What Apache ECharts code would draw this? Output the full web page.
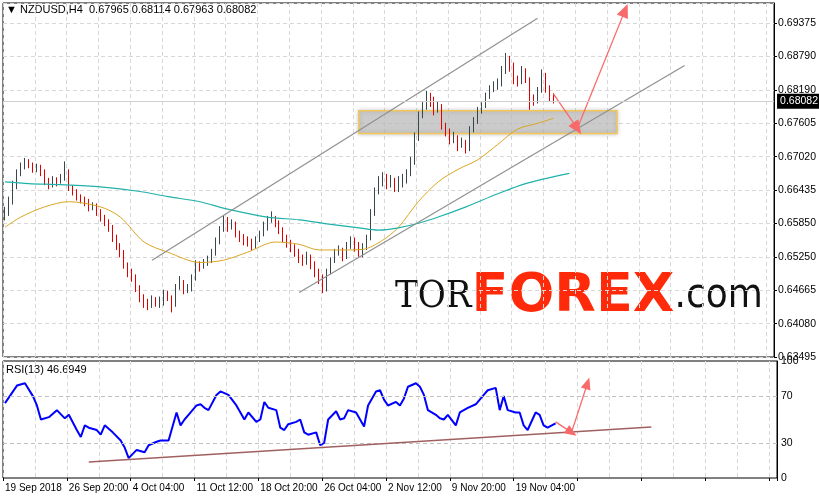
<!DOCTYPE html>
<html>
<head>
<meta charset="utf-8">
<script src="https://cdn.jsdelivr.net/npm/echarts@6/dist/echarts.min.js"></script>
<style>
  html, body { margin: 0; padding: 0; background: #fff; }
  #chart { width: 819px; height: 500px; }
</style>
</head>
<body>
<div id="chart"></div>
<script>
// H4 bars, each slot = 2 real bars
var closes = [
  0.6602,0.6623,0.6649,0.6673,0.6685,0.6694,0.6689,0.6680,0.6685,0.6676,
  0.6658,0.6653,0.6662,0.6658,0.6667,0.6676,0.6649,0.6641,0.6632,0.6626,
  0.6623,0.6614,0.6617,0.6605,0.6596,0.6587,0.6578,0.6561,0.6546,0.6534,
  0.6513,0.6499,0.6490,0.6472,0.6454,0.6445,0.6440,0.6449,0.6445,0.6445,
  0.6460,0.6454,0.6442,0.6472,0.6481,0.6467,0.6472,0.6490,0.6513,0.6507,
  0.6513,0.6520,0.6534,0.6552,0.6573,0.6587,0.6578,0.6584,0.6569,0.6561,
  0.6555,0.6552,0.6543,0.6555,0.6566,0.6578,0.6591,0.6596,0.6584,0.6573,
  0.6561,0.6552,0.6543,0.6534,0.6525,0.6520,0.6525,0.6513,0.6499,0.6490,
  0.6467,0.6499,0.6520,0.6534,0.6538,0.6525,0.6543,0.6552,0.6543,0.6534,
  0.6543,0.6561,0.6605,0.6641,0.6658,0.6667,0.6658,0.6662,0.6649,0.6658,
  0.6662,0.6673,0.6694,0.6738,0.6774,0.6792,0.6809,0.6800,0.6783,0.6792,
  0.6756,0.6747,0.6733,0.6738,0.6726,0.6729,0.6720,0.6751,0.6765,0.6783,
  0.6792,0.6809,0.6822,0.6827,0.6832,0.6854,0.6871,0.6863,0.6839,0.6836,
  0.6850,0.6839,0.6809,0.6800,0.6818,0.6836,0.6822,0.6809,0.6808
];
var highs = [
  0.6614,0.6632,0.6660,0.6680,0.6692,0.6700,0.6698,0.6692,0.6690,0.6688,
  0.6680,0.6665,0.6668,0.6666,0.6672,0.6694,0.6680,0.6652,0.6645,0.6636,
  0.6632,0.6628,0.6622,0.6620,0.6610,0.6600,0.6592,0.6582,0.6565,0.6550,
  0.6538,0.6516,0.6505,0.6495,0.6476,0.6460,0.6452,0.6458,0.6455,0.6456,
  0.6468,0.6466,0.6458,0.6478,0.6492,0.6485,0.6478,0.6495,0.6520,0.6518,
  0.6522,0.6528,0.6540,0.6560,0.6580,0.6598,0.6596,0.6592,0.6588,0.6572,
  0.6566,0.6562,0.6558,0.6562,0.6572,0.6588,0.6598,0.6606,0.6598,0.6590,
  0.6578,0.6565,0.6556,0.6548,0.6540,0.6530,0.6535,0.6530,0.6518,0.6505,
  0.6495,0.6505,0.6525,0.6540,0.6546,0.6542,0.6552,0.6562,0.6560,0.6552,
  0.6550,0.6565,0.6610,0.6648,0.6668,0.6675,0.6672,0.6670,0.6665,0.6668,
  0.6672,0.6680,0.6702,0.6745,0.6782,0.6800,0.6818,0.6815,0.6808,0.6800,
  0.6795,0.6762,0.6752,0.6746,0.6740,0.6736,0.6732,0.6756,0.6772,0.6790,
  0.6798,0.6815,0.6828,0.6835,0.6840,0.6862,0.6885,0.6880,0.6868,0.6845,
  0.6862,0.6858,0.6842,0.6812,0.6825,0.6856,0.6850,0.6828,0.6814
];
var lows = [
  0.6590,0.6598,0.6618,0.6645,0.6668,0.6680,0.6682,0.6674,0.6675,0.6668,
  0.6652,0.6645,0.6648,0.6650,0.6655,0.6660,0.6642,0.6634,0.6625,0.6620,
  0.6615,0.6606,0.6608,0.6598,0.6588,0.6580,0.6570,0.6552,0.6538,0.6525,
  0.6505,0.6490,0.6482,0.6464,0.6446,0.6436,0.6432,0.6436,0.6438,0.6436,
  0.6440,0.6448,0.6428,0.6438,0.6468,0.6460,0.6462,0.6465,0.6484,0.6500,
  0.6505,0.6510,0.6515,0.6528,0.6548,0.6570,0.6570,0.6574,0.6560,0.6552,
  0.6546,0.6544,0.6536,0.6540,0.6552,0.6562,0.6572,0.6586,0.6578,0.6566,
  0.6552,0.6542,0.6534,0.6526,0.6515,0.6510,0.6512,0.6504,0.6490,0.6478,
  0.6462,0.6465,0.6495,0.6515,0.6528,0.6518,0.6522,0.6540,0.6535,0.6526,
  0.6525,0.6538,0.6555,0.6598,0.6636,0.6650,0.6645,0.6648,0.6640,0.6640,
  0.6648,0.6655,0.6668,0.6688,0.6730,0.6770,0.6785,0.6790,0.6775,0.6780,
  0.6750,0.6738,0.6724,0.6726,0.6712,0.6718,0.6708,0.6712,0.6745,0.6760,
  0.6778,0.6788,0.6804,0.6816,0.6820,0.6826,0.6848,0.6852,0.6830,0.6826,
  0.6830,0.6832,0.6785,0.6792,0.6796,0.6815,0.6815,0.6800,0.6796
];
var firstOpen = 0.6595;

var maFast = [[0,0.6578],[4,0.6596],[10,0.6614],[16,0.6623],[24,0.6614],[29,0.6596],[35,0.6552],
  [41,0.6534],[49,0.6516],[55,0.6520],[61,0.6534],[68,0.6552],[74,0.6548],[79,0.6538],[85,0.6538],
  [90,0.6539],[95,0.6555],[99,0.6578],[104,0.6623],[109,0.6658],[114,0.6680],[119,0.6697],
  [124,0.6724],[129,0.6751],[134,0.6761],[138,0.6770]];
var maSlow = [[0,0.6658],[6,0.6655],[14,0.6653],[24,0.6649],[34,0.6641],[41,0.6632],[49,0.6623],
  [56,0.6610],[66,0.6596],[74,0.6591],[81,0.6584],[89,0.6577],[94,0.6573],[99,0.6577],[104,0.6585],
  [109,0.6596],[116,0.6614],[124,0.6637],[131,0.6655],[142,0.6673]];

var rsi = [[0,64],[3,79],[5,81],[7,70],[8,62],[9,50],[11,52],[13,58],[15,51],[16,54],[18,41],[19,35],
  [20,45],[21,43],[23,41],[24,37],[25,45],[27,39],[29,32],[30,26],[31,17],[33,24],[35,22],[36,28],
  [38,31],[39,32],[41,32],[43,56],[44,45],[45,50],[46,54],[48,62],[49,63],[50,60],[51,58],[53,71],
  [54,74],[56,71],[58,62],[60,50],[61,56],[63,48],[64,50],[65,65],[66,60],[68,58],[69,43],[70,41],
  [71,46],[73,48],[74,50],[75,39],[76,37],[78,39],[79,28],[80,30],[81,50],[83,57],[84,50],[85,51],
  [86,58],[88,56],[89,50],[90,44],[91,62],[93,74],[94,75],[95,67],[96,62],[98,65],[99,62],[100,68],
  [101,78],[103,81],[104,78],[105,71],[106,58],[108,54],[109,51],[110,50],[111,54],[113,45],[114,56],
  [115,58],[116,60],[118,63],[119,67],[120,71],[121,75],[123,77],[124,58],[125,70],[126,58],[128,56],
  [129,56],[130,45],[131,41],[133,56],[134,54],[135,45],[136,43],[138,46.69]];

var timeLabels = ['19 Sep 2018','26 Sep 20:00','4 Oct 04:00','11 Oct 12:00','18 Oct 20:00',
  '26 Oct 04:00','2 Nov 12:00','9 Nov 20:00','19 Nov 04:00'];
var priceLabels = ['0.63495','0.64080','0.64665','0.65250','0.65850','0.66435','0.67020',
  '0.67605','0.68190','0.68790','0.69375'];
var rsiLabels = [0, 30, 70, 100];

var SLOTS = 194;
var categories = [];
for (var i = 0; i < SLOTS; i++) {
  categories.push(i % 16 === 0 && timeLabels[i / 16] ? timeLabels[i / 16] : '');
}
var ohlc = closes.map(function (c, i) {
  var o = i === 0 ? firstOpen : closes[i - 1];
  return [o, c, lows[i], highs[i]];
});

var FONT = 'Liberation Sans';
var dash = { color: '#d8d8d8', type: [4, 3], width: 1 };
var chart = echarts.init(document.getElementById('chart'));
chart.setOption({
  animation: false,
  textStyle: { fontFamily: FONT, fontSize: 10 },
  grid: [
    { left: 3, right: 42, top: 3, height: 354, show: true, borderColor: '#000', borderWidth: 1 },
    { left: 3, right: 42, top: 361, height: 117, show: true, borderColor: '#000', borderWidth: 1 }
  ],
  xAxis: [
    { type: 'category', gridIndex: 0, data: categories, axisLine: { show: false }, axisTick: { show: false },
      axisLabel: { show: false }, splitLine: { show: true, interval: 7, lineStyle: dash } },
    { type: 'category', gridIndex: 1, data: categories, axisLine: { show: false },
      axisTick: { show: true, interval: 15, length: 3, lineStyle: { color: '#000' } },
      axisLabel: { interval: 15, color: '#000', fontSize: 10, fontFamily: FONT, align: 'left', margin: 5 },
      splitLine: { show: true, interval: 7, lineStyle: dash } }
  ],
  yAxis: [
    { type: 'value', gridIndex: 0, position: 'right', min: 0.63495, max: 0.6973, interval: 0.00588,
      axisLine: { show: true, lineStyle: { color: '#000' } },
      axisTick: { show: true, length: 3, lineStyle: { color: '#000' } },
      axisLabel: { color: '#000', fontSize: 10.5, fontFamily: FONT, margin: 4, showMaxLabel: false,
        formatter: function (v) { return priceLabels[Math.round((v - 0.63495) / 0.00588)] || ''; } },
      splitLine: { show: true, lineStyle: dash } },
    { type: 'value', gridIndex: 1, position: 'right', min: 0, max: 100, interval: 10,
      axisLine: { show: true, lineStyle: { color: '#000' } },
      axisTick: { show: false },
      axisLabel: { color: '#000', fontSize: 10.5, fontFamily: FONT, margin: 4,
        formatter: function (v) { return rsiLabels.indexOf(v) >= 0 ? String(v) : ''; } },
      splitLine: { show: false } }
  ],
  series: [
    {
      type: 'candlestick', xAxisIndex: 0, yAxisIndex: 0, data: ohlc, barWidth: 1,
      itemStyle: { color: '#37474a', color0: '#e00000', borderColor: '#37474a', borderColor0: '#e00000', borderWidth: 1 },
      markArea: {
        silent: true,
        itemStyle: { color: 'rgba(200,200,200,0.7)', borderColor: '#f2c65a', borderWidth: 1.5,
          shadowBlur: 4, shadowColor: 'rgba(0,0,0,0.25)' },
        data: [[{ coord: [89, 0.6783] }, { coord: [154, 0.6743] }]]
      },
      markLine: {
        silent: true, symbol: ['none', 'none'],
        data: [
          [{ coord: [37, 0.6520], lineStyle: { color: '#909090', width: 1.2, type: 'solid' } }, { coord: [134, 0.6946] }],
          [{ coord: [74, 0.6463], lineStyle: { color: '#909090', width: 1.2, type: 'solid' } }, { coord: [171, 0.6863] }],
          [{ coord: [138, 0.6813], symbol: 'none', lineStyle: { color: '#f86a6a', width: 1.3, type: 'solid' } },
           { coord: [144, 0.6752], symbol: 'triangle', symbolSize: [12, 14] }],
          [{ coord: [144, 0.6752], symbol: 'none', lineStyle: { color: '#f86a6a', width: 1.3, type: 'solid' } },
           { coord: [156, 0.6960], symbol: 'triangle', symbolSize: [12, 14] }],
          { yAxis: 0.68082, lineStyle: { color: '#d0d0d0', width: 1, type: 'solid' },
            label: { show: true, position: 'end', formatter: '0.68082', color: '#fff', backgroundColor: '#000',
              padding: [2, 3], fontSize: 10.5, fontFamily: FONT, distance: 3 } }
        ]
      }
    },
    { type: 'line', xAxisIndex: 0, yAxisIndex: 0, data: maFast, showSymbol: false, smooth: 0.3,
      lineStyle: { color: '#daa520', width: 1 } },
    { type: 'line', xAxisIndex: 0, yAxisIndex: 0, data: maSlow, showSymbol: false, smooth: 0.3,
      lineStyle: { color: '#20b2aa', width: 1.2 } },
    {
      type: 'line', xAxisIndex: 1, yAxisIndex: 1, data: rsi, showSymbol: false,
      lineStyle: { color: '#0000ff', width: 2 },
      markLine: {
        silent: true, symbol: ['none', 'none'], label: { show: false },
        data: [
          { yAxis: 30, lineStyle: { color: '#c0c0c0', type: [4, 3], width: 1 } },
          { yAxis: 70, lineStyle: { color: '#c0c0c0', type: [4, 3], width: 1 } },
          [{ coord: [21, 13.7], lineStyle: { color: '#a06060', width: 1.5, type: 'solid' } }, { coord: [162, 43.6] }],
          [{ coord: [138, 48], symbol: 'none', lineStyle: { color: '#f86a6a', width: 1.3, type: 'solid' } },
           { coord: [142, 39], symbol: 'triangle', symbolSize: [10, 12] }],
          [{ coord: [142, 39], symbol: 'none', lineStyle: { color: '#f86a6a', width: 1.3, type: 'solid' } },
           { coord: [146, 81], symbol: 'triangle', symbolSize: [10, 12] }]
        ]
      }
    }
  ],
  graphic: [
    { type: 'text', left: 6, top: 4, style: { text: '\u25BC NZDUSD,H4  0.67965 0.68114 0.67963 0.68082',
      font: '11px "Liberation Sans"', fill: '#000' } },
    { type: 'text', left: 6, top: 364, style: { text: 'RSI(13) 46.6949', font: '11px "Liberation Sans"', fill: '#000' } },
    { type: 'text', left: 395, top: 270, style: {
      text: '{a|TOR}{b|FOREX}{c|.com}',
      rich: {
        a: { font: '38px "DejaVu Serif Condensed"', fill: '#111' },
        b: { font: 'bold 54px "DejaVu Sans"', fill: '#ff2a0a' },
        c: { font: '40px "DejaVu Sans Condensed"', fill: '#111' }
      } } }
  ]
});
</script>
</body>
</html>
